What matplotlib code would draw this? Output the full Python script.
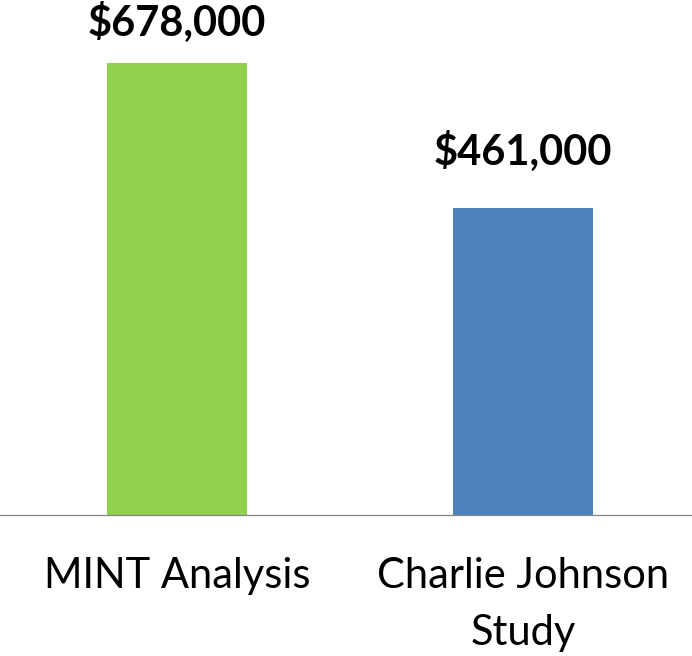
import matplotlib
matplotlib.use("Agg")
import matplotlib.pyplot as plt

categories = ["MINT Analysis", "Charlie Johnson\nStudy"]
values = [678000, 461000]
labels = ["$678,000", "$461,000"]
colors = ["#92D050", "#4F81BD"]

plt.rcParams["font.family"] = ["Lato", "DejaVu Sans"]

W, H = 692, 656
fig = plt.figure(figsize=(W / 100, H / 100), dpi=100)
ax = fig.add_axes([0, 0.215, 1, 0.785])

x = list(range(len(categories)))
bars = ax.bar(x, values, width=0.405, color=colors)

ax.set_xlim(-0.5116, 1.488)
ax.set_ylim(0, 772500)

# value labels sit ~43px above the bar, but get pushed down to stay inside the canvas
for bar, lab in zip(bars, labels):
    cx = bar.get_x() + bar.get_width() / 2
    px, py = ax.transData.transform((cx, bar.get_height()))
    base = min(py + 43, H - 36)
    ax.annotate(lab, (px, base), xycoords="figure pixels",
                ha="center", va="baseline", fontsize=30, fontweight="bold")

ax.set_xticks(x)
ax.set_xticklabels(categories, fontsize=30, linespacing=1.64)
ax.tick_params(axis="x", length=0, pad=30)
ax.set_yticks([])

for s in ["top", "left", "right"]:
    ax.spines[s].set_visible(False)
ax.spines["bottom"].set_color("#868686")
ax.spines["bottom"].set_linewidth(0.9)

fig.savefig("out.png", dpi=100, facecolor="white")
